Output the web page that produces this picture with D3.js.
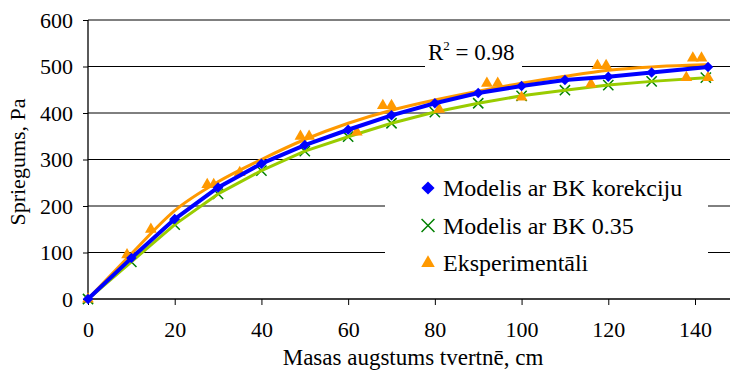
<!DOCTYPE html>
<html>
<head>
<meta charset="utf-8">
<script src="https://cdn.jsdelivr.net/npm/d3@7"></script>
<style>
  html, body { margin: 0; padding: 0; background: #fff; }
  svg { display: block; }
</style>
</head>
<body>
<div id="chart"></div>
<script>
// ---- data ----
const xTickValues = [0, 20, 40, 60, 80, 100, 120, 140];
const yTickValues = [0, 100, 200, 300, 400, 500, 600];

// Modelis ar BK korekciju (blue diamonds, thick blue line)
const modelKorX = [0, 10, 20, 30, 40, 50, 60, 70, 80, 90, 100, 110, 120, 130, 143];
const modelKorY = [0, 88, 172, 240, 291, 331, 364, 395, 421, 443, 458, 471, 478, 487, 499];

// Modelis ar BK 0.35 (green X, yellow-green line)
const model035X = [0, 10, 20, 30, 40, 50, 60, 70, 80, 90, 100, 110, 120, 130, 142.5];
const model035Y = [0, 80, 160, 226, 276, 318, 349, 378, 402, 421, 437, 449, 460, 468, 476];

// Eksperimentāli (orange triangles)
const expX = [0, 9, 14.5, 27.5, 29, 35, 49, 51, 62, 68, 70, 81, 92, 94.5, 100, 116, 117.5, 119.5, 138, 139.5, 141.5, 143];
const expY = [0, 95, 150, 246, 246, 272, 350, 350, 359, 416, 416, 408, 464, 464, 434, 462, 502, 502, 476, 518, 518, 476];

// Trend line of experimental data (orange, R² = 0.98)
const trendX = [0, 10, 20, 30, 40, 50, 60, 70, 80, 90, 100, 110, 120, 130, 140, 143];
const trendY = [0, 97, 190, 252, 300, 343, 378, 406, 428, 447, 464, 479, 492, 499, 503, 504];

const seriesNames = ["Modelis ar BK korekciju", "Modelis ar BK 0.35", "Eksperimentāli"];
const r2Label = "0.98";

// ---- layout ----
const FONT = "'Liberation Serif', 'Times New Roman', Times, serif";
const W = 730, H = 371;
const svg = d3.select("#chart").append("svg").attr("width", W).attr("height", H)
  .style("font-family", FONT);

const x = d3.scaleLinear().domain([0, 140]).range([88, 695]);
const y = d3.scaleLinear().domain([0, 600]).range([299, 20]);
const plotRight = 730;

const BLUE = "#0000FF", LGREEN = "#99CC00", DGREEN = "#008000", ORANGE = "#FF9900";

// gridlines
svg.append("g").selectAll("line")
  .data(yTickValues.filter(d => d > 0))
  .join("line")
  .attr("x1", x(0)).attr("x2", plotRight)
  .attr("y1", d => y(d)).attr("y2", d => y(d))
  .attr("stroke", "#000").attr("stroke-width", 1);

// white boxes (R² label, legend) that interrupt the gridlines
svg.append("rect").attr("x", 425).attr("y", 38).attr("width", 97).attr("height", 36).attr("fill", "#fff");
svg.append("rect").attr("x", 385).attr("y", 168).attr("width", 323).attr("height", 116).attr("fill", "#fff");

// axes
const tickFont = 22;
const yAxis = svg.append("g").attr("transform", `translate(${x(0)},0)`)
  .call(d3.axisLeft(y).tickValues(yTickValues).tickSize(5).tickPadding(10).tickSizeOuter(0));
const xAxis = svg.append("g").attr("transform", `translate(0,${y(0)})`)
  .call(d3.axisBottom(x).tickValues(xTickValues).tickSize(6).tickPadding(16).tickSizeOuter(0));
[yAxis, xAxis].forEach(g => {
  g.attr("font-family", null).attr("font-size", null);
  g.select(".domain").remove();
  g.selectAll(".tick line").attr("stroke", "#000");
  g.selectAll(".tick text").style("font-size", tickFont + "px").style("font-family", FONT).attr("fill", "#000");
});
xAxis.selectAll(".tick text").attr("dy", "0.71em");
// axis lines
svg.append("line").attr("x1", x(0)).attr("x2", x(0)).attr("y1", y(600)).attr("y2", y(0)).attr("stroke", "#000").attr("stroke-width", 1.3);
svg.append("line").attr("x1", x(0)).attr("x2", plotRight).attr("y1", y(0)).attr("y2", y(0)).attr("stroke", "#000").attr("stroke-width", 1.3);

// axis titles
svg.append("text").attr("x", 413).attr("y", 365).attr("text-anchor", "middle")
  .style("font-family", FONT).style("font-size", "23px").text("Masas augstums tvertnē, cm");
svg.append("text").attr("transform", "translate(25,162) rotate(-90)").attr("text-anchor", "middle")
  .style("font-family", FONT).style("font-size", "22px").text("Spriegums, Pa");

// ---- series ----
const zip = (xs, ys) => xs.map((v, i) => [v, ys[i]]);
const line = d3.line().x(d => x(d[0])).y(d => y(d[1]));
const kor = zip(modelKorX, modelKorY);
const m035 = zip(model035X, model035Y);
const exp = zip(expX, expY);
const trend = zip(trendX, trendY);

const diamond = d3.symbol().type(d3.symbolDiamond2).size(70);
const triangle = d3.symbol().type(d3.symbolTriangle).size(60);
const cross = d3.symbol().type(d3.symbolX).size(70);

// green X markers then green line
svg.append("g").selectAll("path").data(m035).join("path")
  .attr("d", cross).attr("transform", d => `translate(${x(d[0])},${y(d[1])})`)
  .attr("fill", "none").attr("stroke", DGREEN).attr("stroke-width", 1.5);
svg.append("path").datum(m035).attr("d", line).attr("fill", "none")
  .attr("stroke", LGREEN).attr("stroke-width", 3).attr("stroke-linejoin", "round");

// orange triangles
svg.append("g").selectAll("path").data(exp).join("path")
  .attr("d", triangle).attr("transform", d => `translate(${x(d[0])},${y(d[1])})`)
  .attr("fill", ORANGE);

// orange trendline
const smooth = d3.line().x(d => x(d[0])).y(d => y(d[1])).curve(d3.curveMonotoneX);
svg.append("path").datum(trend).attr("d", smooth).attr("fill", "none")
  .attr("stroke", ORANGE).attr("stroke-width", 3);

// blue line + diamonds
svg.append("path").datum(kor).attr("d", line).attr("fill", "none")
  .attr("stroke", BLUE).attr("stroke-width", 4).attr("stroke-linejoin", "round");
svg.append("g").selectAll("path").data(kor).join("path")
  .attr("d", diamond).attr("transform", d => `translate(${x(d[0])},${y(d[1])})`)
  .attr("fill", BLUE);

// R² label
const r2 = svg.append("text").attr("x", 428).attr("y", 60)
  .style("font-family", FONT).style("font-size", "23px");
r2.append("tspan").text("R");
r2.append("tspan").style("font-size", "13px").attr("dy", -10).text("2");
r2.append("tspan").attr("dy", 10).text(" = " + r2Label);

// legend
const legendRows = [
  { name: seriesNames[0], sym: d3.symbol().type(d3.symbolDiamond2).size(110), fill: BLUE, stroke: "none" },
  { name: seriesNames[1], sym: d3.symbol().type(d3.symbolX).size(110), fill: "none", stroke: DGREEN },
  { name: seriesNames[2], sym: d3.symbol().type(d3.symbolTriangle).size(80), fill: ORANGE, stroke: "none" }
];
const lg = svg.append("g").selectAll("g").data(legendRows).join("g")
  .attr("transform", (d, i) => `translate(428,${188 + i * 37.5})`);
lg.append("path").attr("d", d => d.sym()).attr("fill", d => d.fill)
  .attr("stroke", d => d.stroke).attr("stroke-width", 1.5);
lg.append("text").attr("x", 15).attr("dy", "0.35em")
  .style("font-family", FONT).style("font-size", "24px").text(d => d.name);
</script>
</body>
</html>
